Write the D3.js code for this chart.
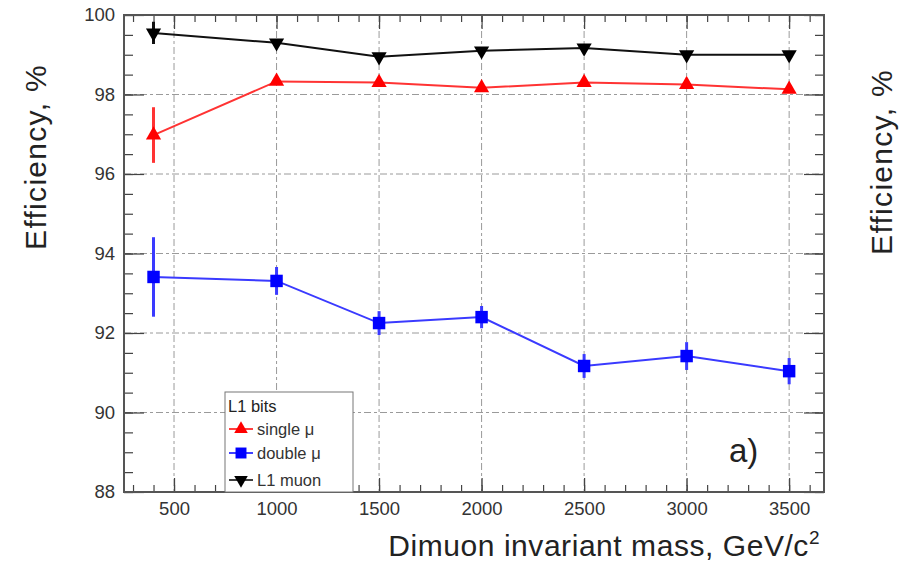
<!DOCTYPE html>
<html><head><meta charset="utf-8">
<script src="https://cdn.jsdelivr.net/npm/d3@7"></script>
<style>body{margin:0;background:#fff}svg{display:block;font-family:"Liberation Sans",Arial,sans-serif}</style>
</head><body><svg id="c" width="909" height="562"></svg>
<script>
const masses = [400, 1000, 1500, 2000, 2500, 3000, 3500];
const singleMu = [96.98, 98.33, 98.30, 98.17, 98.30, 98.25, 98.13];
const singleMuErr = [0.70, 0.05, 0.05, 0.05, 0.05, 0.05, 0.05];
const doubleMu = [93.41, 93.31, 92.25, 92.40, 91.17, 91.42, 91.04];
const doubleMuErr = [1.00, 0.35, 0.30, 0.28, 0.30, 0.35, 0.33];
const l1Muon = [99.55, 99.30, 98.95, 99.10, 99.17, 99.00, 99.00];
const l1MuonErr = [0.28, 0.05, 0.05, 0.05, 0.05, 0.05, 0.05];
const xTicks = [500, 1000, 1500, 2000, 2500, 3000, 3500];
const yTicks = [88, 90, 92, 94, 96, 98, 100];
const legendLabels = ["single \u03bc", "double \u03bc", "L1 muon"];

const svg = d3.select("#c");
const L = 124, R = 824, T = 15, B = 492;
const x = d3.scaleLinear().domain([256, 3670]).range([L, R]);
const y = d3.scaleLinear().domain([88, 100]).range([B, T]);

// grid
const grid = svg.append("g").attr("stroke", "#9a9a9a").attr("stroke-width", 1).attr("stroke-dasharray", "7,3,3,3");
grid.selectAll(".vx").data(xTicks).join("line")
  .attr("x1", d => x(d)).attr("x2", d => x(d)).attr("y1", T).attr("y2", B);
grid.selectAll(".hy").data(yTicks.filter(d => d > 88 && d < 100)).join("line")
  .attr("x1", L).attr("x2", R).attr("y1", d => y(d)).attr("y2", d => y(d));

// minor ticks
const xMinor = d3.range(300, 3700, 100).filter(d => x(d) < R);
const yMinor = d3.range(88, 100.01, 0.5);
const axisColor = "#444";
function axes() {
  const g = svg.append("g");
  g.append("g").attr("transform", `translate(0,${B})`)
    .call(d3.axisBottom(x).tickValues(xMinor).tickSize(-7).tickFormat(""))
    .call(a => a.select(".domain").remove());
  g.append("g").attr("transform", `translate(0,${B})`)
    .call(d3.axisBottom(x).tickValues(xTicks).tickSize(-14).tickPadding(10).tickFormat(d3.format("d")))
    .call(a => a.select(".domain").remove());
  g.append("g").attr("transform", `translate(0,${T})`)
    .call(d3.axisTop(x).tickValues(xMinor).tickSize(-7).tickFormat(""))
    .call(a => a.select(".domain").remove());
  g.append("g").attr("transform", `translate(0,${T})`)
    .call(d3.axisTop(x).tickValues(xTicks).tickSize(-14).tickFormat(""))
    .call(a => a.select(".domain").remove());
  g.append("g").attr("transform", `translate(${L},0)`)
    .call(d3.axisLeft(y).tickValues(yMinor).tickSize(-9).tickFormat(""))
    .call(a => a.select(".domain").remove());
  g.append("g").attr("transform", `translate(${L},0)`)
    .call(d3.axisLeft(y).tickValues(yTicks).tickSize(-20).tickPadding(9).tickFormat(d3.format("d")))
    .call(a => a.select(".domain").remove());
  g.append("g").attr("transform", `translate(${R},0)`)
    .call(d3.axisRight(y).tickValues(yMinor).tickSize(-9).tickFormat(""))
    .call(a => a.select(".domain").remove());
  g.append("g").attr("transform", `translate(${R},0)`)
    .call(d3.axisRight(y).tickValues(yTicks).tickSize(-20).tickFormat(""))
    .call(a => a.select(".domain").remove());
  g.selectAll("line").attr("stroke", axisColor).attr("stroke-width", 1.2);
  g.selectAll("text").attr("fill", "#333").attr("font-size", 18.5).attr("font-family", "Liberation Sans, Arial, sans-serif");
  g.append("rect").attr("x", L).attr("y", T).attr("width", R - L).attr("height", B - T)
    .attr("fill", "none").attr("stroke", "#555").attr("stroke-width", 2);
}
axes();

const sym = {
  up: d3.symbol().type(d3.symbolTriangle).size(100),
  sq: d3.symbol().type(d3.symbolSquare).size(155),
};

function series(vals, errs, color, lineColor, marker) {
  const g = svg.append("g");
  const pts = masses.map((m, i) => ({m, v: vals[i], e: errs[i]}));
  g.append("path").datum(pts)
    .attr("fill", "none").attr("stroke", lineColor).attr("stroke-width", 2)
    .attr("d", d3.line().x(d => x(d.m)).y(d => y(d.v)));
  g.selectAll(".err").data(pts).join("line")
    .attr("x1", d => x(d.m)).attr("x2", d => x(d.m))
    .attr("y1", d => y(d.v - d.e)).attr("y2", d => y(d.v + d.e))
    .attr("stroke", lineColor).attr("stroke-width", 3);
  g.selectAll(".mk").data(pts).join("path")
    .attr("transform", d => `translate(${x(d.m)},${y(d.v)})` + (marker === "down" ? " rotate(180)" : ""))
    .attr("d", marker === "sq" ? sym.sq() : sym.up())
    .attr("fill", color);
}
series(singleMu, singleMuErr, "#ff0000", "#ff3333", "up");
series(doubleMu, doubleMuErr, "#0000ff", "#3a3aff", "sq");
series(l1Muon, l1MuonErr, "#000000", "#111111", "down");

// legend
const lg = svg.append("g");
lg.append("rect").attr("x", 225).attr("y", 392).attr("width", 128).attr("height", B - 392)
  .attr("fill", "#fff").attr("stroke", "#777").attr("stroke-width", 1);
lg.append("text").attr("x", 228).attr("y", 412).attr("font-size", 16.5).attr("fill", "#222").text("L1 bits");
const legItems = [
  {label: legendLabels[0], color: "#ff0000", marker: "up"},
  {label: legendLabels[1], color: "#0000ff", marker: "sq"},
  {label: legendLabels[2], color: "#000000", marker: "down"},
];
const legY = [429, 453, 480];
legItems.forEach((it, i) => {
  const yy = legY[i];
  lg.append("line").attr("x1", 229).attr("x2", 253).attr("y1", yy).attr("y2", yy)
    .attr("stroke", it.color).attr("stroke-width", 1.5);
  lg.append("path").attr("transform", `translate(241,${yy})` + (it.marker === "down" ? " rotate(180)" : ""))
    .attr("d", it.marker === "sq" ? d3.symbol().type(d3.symbolSquare).size(120)() : d3.symbol().type(d3.symbolTriangle).size(80)())
    .attr("fill", it.color);
  lg.append("text").attr("x", 257).attr("y", yy + 6).attr("font-size", 16.5).attr("fill", "#333").text(it.label);
});

// "a)"
svg.append("text").attr("x", 729).attr("y", 462).attr("font-size", 33).attr("fill", "#222").text("a)");

// axis titles
const xt = svg.append("text").attr("x", 820).attr("y", 556).attr("text-anchor", "end")
  .attr("font-size", 30).attr("letter-spacing", 0.55).attr("fill", "#222");
xt.append("tspan").text("Dimuon invariant mass, GeV/c");
xt.append("tspan").attr("dy", -12).attr("font-size", 19).text("2");

svg.append("text").attr("transform", "translate(46,157) rotate(-90)").attr("text-anchor", "middle")
  .attr("font-size", 30).attr("letter-spacing", 1.3).attr("fill", "#222").text("Efficiency, %");
svg.append("text").attr("transform", "translate(892,162) rotate(-90)").attr("text-anchor", "middle")
  .attr("font-size", 30).attr("letter-spacing", 1.3).attr("fill", "#222").text("Efficiency, %");
</script></body></html>
